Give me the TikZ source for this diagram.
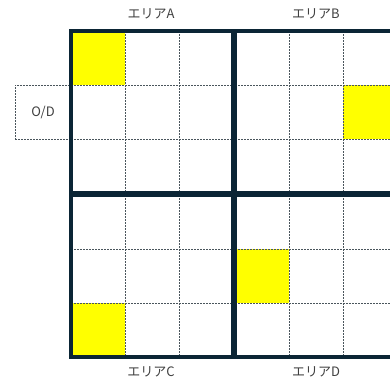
\documentclass[tikz,border=0pt]{standalone}
\usepackage{fontspec}
\newfontfamily\jp{Noto Sans CJK JP}
\definecolor{navy}{HTML}{0B2535}
\definecolor{gridc}{HTML}{4A555C}
\definecolor{txt}{HTML}{404040}
\definecolor{hl}{HTML}{FFFF00}
\begin{document}
\begin{tikzpicture}[x=1pt,y=-1pt,
  area/.style={draw=navy, line width=4pt, minimum width=162pt, minimum height=162pt, inner sep=0pt, outer sep=0pt, anchor=north west},
  gridline/.style={draw=gridc, line width=1pt, dash pattern=on 2pt off 1pt},
  cell/.style={fill=hl},
  lbl/.style={font=\jp\fontsize{13}{15}\selectfont, text=txt, inner sep=0pt},
  odbox/.style={gridline, minimum width=56pt, minimum height=54pt, inner sep=0pt, outer sep=0pt, anchor=north west, font=\jp\fontsize{13}{15}\selectfont, text=txt}
]
\useasboundingbox (0,0) rectangle (390,380);
\clip (0,0) rectangle (390,380);
% highlighted cells
\fill[cell] (71,31) rectangle (125,85);
\fill[cell] (343,85) rectangle (397,139);
\fill[cell] (71,303) rectangle (125,357);
\fill[cell] (235,249) rectangle (289,303);
% O/D box
\node[odbox] (od) at (15,85) {O/D};
% inner grid lines
\foreach \x in {125,179} {
  \draw[gridline] (\x,31) -- (\x,193);
  \draw[gridline] (\x,195) -- (\x,357);
}
\foreach \x in {289,343} {
  \draw[gridline] (\x,31) -- (\x,193);
  \draw[gridline] (\x,195) -- (\x,357);
}
\foreach \y in {85,139} {
  \draw[gridline] (71,\y) -- (233,\y);
  \draw[gridline] (235,\y) -- (397,\y);
}
\foreach \y in {249,303} {
  \draw[gridline] (71,\y) -- (233,\y);
  \draw[gridline] (235,\y) -- (397,\y);
}
% areas
\node[area] (A) at (71,31) {};
\node[area] (B) at (235,31) {};
\node[area] (C) at (71,195) {};
\node[area] (D) at (235,195) {};
% labels
\node[lbl] (la) at (151,14) {エリアA};
\node[lbl] (lb) at (316,14) {エリアB};
\node[lbl] (lc) at (151,372) {エリアC};
\node[lbl] (ld) at (316,372) {エリアD};
\end{tikzpicture}
\end{document}
